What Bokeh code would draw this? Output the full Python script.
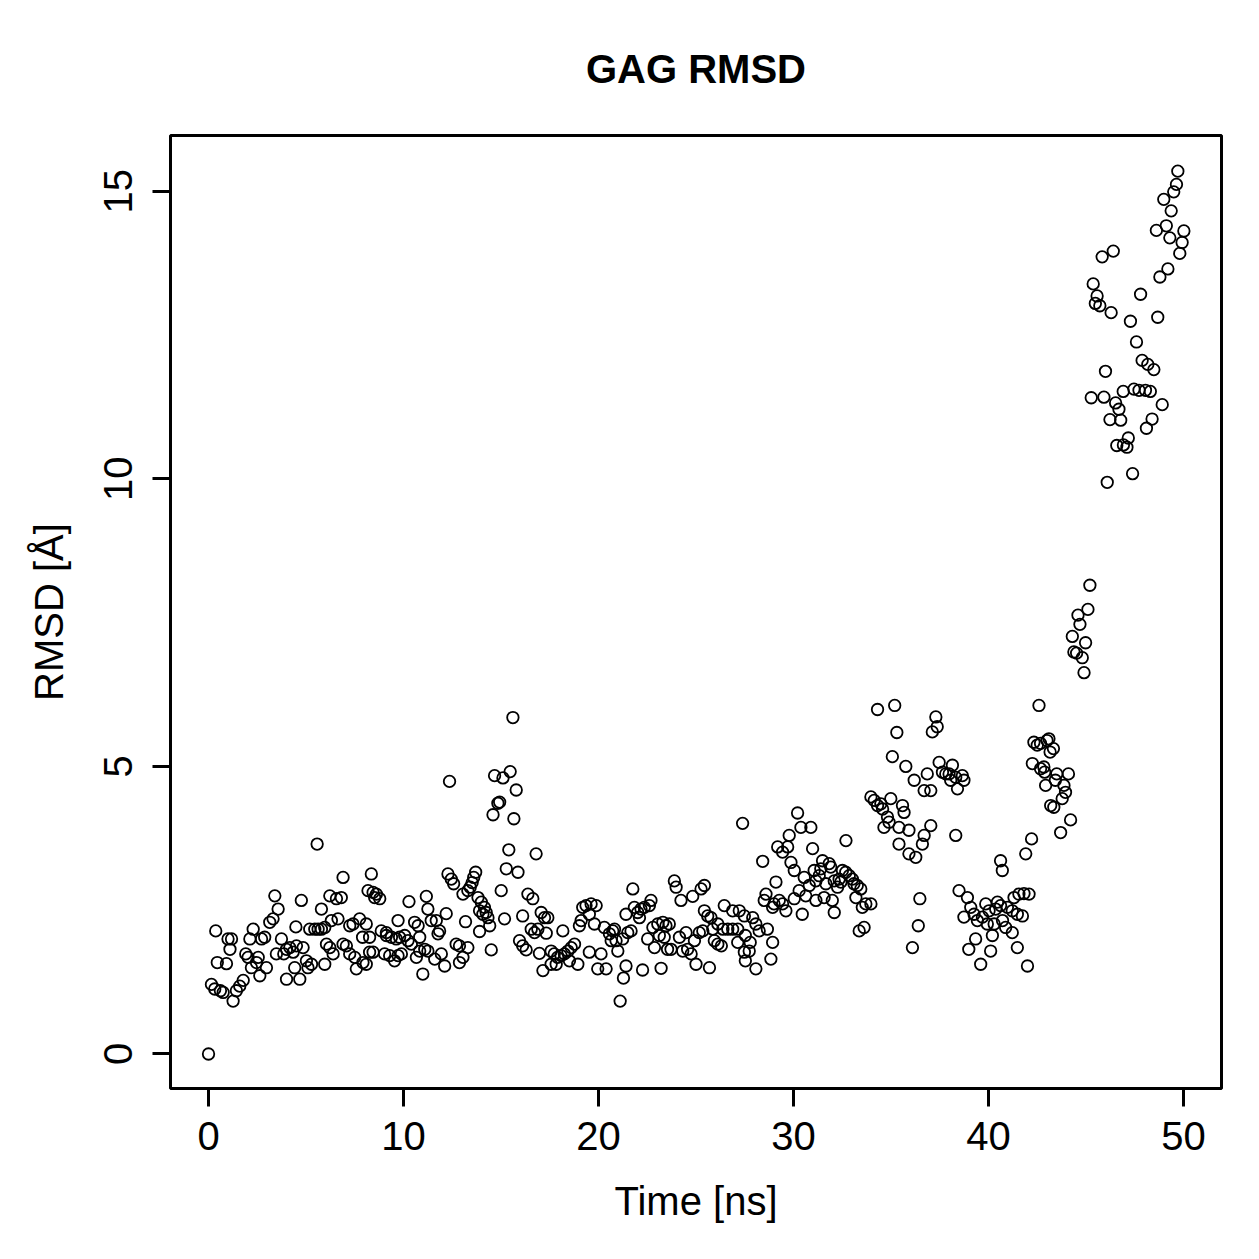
from bokeh.plotting import figure
from bokeh.models import FixedTicker, ColumnDataSource
from bokeh.embed import file_html
from bokeh.resources import INLINE

# Points (time in ns, RMSD in Å)
time_ns = [
    0.0, 0.37, 1.0, 1.18, 1.1, 0.45, 0.92, 0.15, 0.32, 0.61, 0.75, 1.26, 1.43, 1.6, 1.78,
    1.91, 2.03, 2.2, 2.46, 2.55, 2.97, 2.63, 2.29, 2.12, 2.72, 2.88, 3.14, 3.31, 3.57, 3.4,
    3.48, 3.74, 3.86, 4.0, 4.17, 4.34, 4.51, 4.42, 4.0, 4.68, 4.85, 4.48, 4.76,
    5.02, 5.28, 5.1, 5.96, 5.19, 5.45, 5.62, 5.79, 5.96, 5.57, 5.79,
    6.05, 6.22, 6.39, 6.9, 7.07, 7.24, 7.5, 7.58, 7.92, 8.26, 7.9,
    6.22, 6.56, 6.81, 6.3, 6.64, 6.9, 7.24, 7.41, 7.75, 8.09,
    8.35, 8.18, 8.44, 8.52,
    15.61, 12.36, 14.67, 15.1, 15.47, 15.78, 14.84, 14.93, 14.59, 15.66, 15.4, 16.8, 15.27, 15.87,
    12.28, 12.45, 12.57, 13.7, 13.6, 13.52, 13.42, 13.3, 13.05, 15.01, 8.61, 8.78, 10.28, 11.17,
    16.38, 16.63, 13.82, 13.99, 14.15, 14.24, 13.9, 14.07, 14.33, 14.42,
    11.25, 11.42, 11.68, 12.19, 13.18, 13.9, 11.85, 11.77, 15.18,
    16.11, 17.06, 17.23, 16.55, 16.89, 16.72, 15.95, 16.11, 16.29, 16.97, 17.15, 14.5,
    12.7, 12.87, 13.3, 13.05, 12.87, 12.11, 11.6, 11.94, 11.25, 10.99, 10.66, 10.83, 11.09,
    9.03, 9.29, 9.54, 9.72, 9.89, 8.09, 8.44,
    8.86, 9.12, 9.38, 9.63, 9.8, 10.06, 10.23, 10.4, 10.57, 10.75, 10.83, 9.72, 9.12, 8.26,
    17.4, 17.32, 17.57, 17.73, 17.9, 18.08, 18.25, 18.43, 18.6, 18.77, 17.57, 17.83, 18.51, 18.94, 18.17,
    19.02, 19.11, 19.19, 19.36, 19.53, 19.62, 19.88, 19.79, 19.53, 19.96, 20.13, 20.39, 20.3,
    20.56, 20.73, 20.9, 20.65, 20.99, 20.82, 21.24, 21.5, 21.67, 21.41, 21.28, 21.11, 21.76,
    21.41, 21.84, 22.01, 22.18, 22.35, 22.61, 22.69, 22.1, 22.26,
    22.52, 22.87, 22.79, 23.04, 23.3, 23.46, 23.63, 23.12, 23.37, 23.54, 23.72, 23.21,
    23.89, 23.98, 24.23, 24.83, 25.26, 25.43,
    24.15, 24.49, 24.32, 24.57, 24.75, 24.92, 25.17, 25.35, 25.0, 25.69,
    25.43, 25.6, 25.77, 25.86, 25.94,
    30.21, 27.39, 30.38, 30.89, 29.78, 29.7, 29.19, 29.44, 32.69, 30.98, 28.42,
    29.87, 30.04, 31.49, 31.83, 31.4, 31.91,
    30.55, 31.06, 31.32, 30.81, 31.15, 31.66, 32.09, 32.34, 32.51, 32.68, 32.86, 33.02, 33.1, 33.27, 33.45, 32.26, 32.43,
    29.1, 30.29, 30.04, 30.63, 31.15, 31.57, 31.99, 32.09, 30.45,
    28.59, 28.5, 29.0, 29.27, 29.44, 29.61, 28.93,
    33.2, 33.53, 33.71, 33.62, 33.37,
    26.45, 26.88, 27.22, 27.48, 27.91, 28.07, 28.24, 28.66, 28.93, 28.84, 28.07, 27.73, 27.48, 27.14,
    26.12, 26.38, 26.63, 26.88, 27.14, 26.12, 26.3, 27.53, 27.78, 27.53,
    34.31, 35.19, 37.3, 37.37, 37.12, 35.3, 42.59, 35.07, 35.76, 36.19, 36.86, 36.7, 37.04,
    37.47, 37.64, 37.81, 37.98, 38.15, 38.32, 38.41, 38.66, 38.74, 38.06,
    33.97, 34.14, 34.31, 34.57, 34.99, 35.59, 35.67, 34.82, 34.64, 35.41, 35.92, 35.41, 35.92, 36.27,
    36.61, 36.7, 37.04, 38.32, 34.48, 34.9, 33.97, 36.48, 36.4, 36.1,
    38.49, 38.92, 39.09, 38.74, 39.26, 39.43, 39.69, 39.86, 40.03, 40.37, 40.46, 40.62, 40.97, 41.22,
    41.48, 41.74, 41.56, 41.82, 42.08, 41.31, 40.88, 41.22, 40.2, 39.34, 38.99, 40.11, 39.6, 41.48,
    42.0, 40.72, 39.94, 40.29, 40.62, 40.71, 41.91, 42.21,
    42.33, 42.5, 43.0, 42.25, 42.67, 42.93, 43.19, 42.84,
    45.2, 45.1, 44.59, 44.69, 44.3, 44.98, 44.38, 44.52, 44.81, 44.9,
    43.1, 43.33, 43.16, 42.88, 43.5, 44.1, 43.43, 43.87, 43.95, 43.78, 43.35, 44.21, 43.7, 42.67,
    49.71, 49.64, 49.5, 48.99, 49.37, 48.61, 49.12, 49.3, 50.02, 49.93, 49.81,
    46.4, 45.83, 49.2, 48.79, 45.37, 45.57, 45.48, 45.71, 46.29,
    47.8, 48.68, 47.28, 47.59, 46.0, 47.88, 48.17, 48.48,
    45.27, 45.92, 46.52, 46.69, 46.91, 47.46, 47.72, 48.05, 48.3, 48.91,
    46.23, 46.78, 48.39, 48.1, 47.17, 46.58, 46.92, 47.1, 47.39, 46.09,
]

rmsd = [
    0.0, 2.14, 2.0, 2.0, 1.82, 1.59, 1.57, 1.21, 1.13, 1.1, 1.07, 0.92, 1.1, 1.18, 1.28,
    1.74, 1.68, 1.5, 1.59, 1.68, 1.5, 1.36, 2.17, 2.0, 2.0, 2.03, 2.29, 2.35, 2.52, 2.75,
    1.74, 2.0, 1.74, 1.82, 1.85, 1.77, 1.88, 1.5, 1.3, 1.3, 1.85, 2.21, 2.67,
    1.62, 1.56, 1.5, 1.56, 2.17, 2.17, 2.17, 2.17, 2.2, 3.65, 2.52,
    1.91, 1.85, 1.74, 1.91, 1.88, 1.74, 1.68, 1.48, 1.59, 1.77, 2.03,
    2.75, 2.7, 2.72, 2.32, 2.35, 3.07, 2.23, 2.26, 2.35, 2.26,
    3.13, 2.84, 2.81, 2.72,
    5.85, 4.74, 4.84, 4.8, 4.91, 4.59, 4.36, 4.38, 4.16, 4.09, 3.55, 3.48, 3.22, 3.16,
    3.13, 3.04, 2.96, 3.16, 3.07, 2.98, 2.9, 2.84, 2.78, 2.84, 2.78, 2.7, 2.65, 2.74,
    2.78, 2.7, 2.72, 2.64, 2.55, 2.46, 2.49, 2.43, 2.37, 2.23,
    2.52, 2.32, 2.32, 2.44, 2.3, 2.13, 2.14, 2.09, 2.35,
    2.4, 2.46, 2.37, 2.17, 2.17, 2.11, 1.97, 1.88, 1.81, 1.75, 1.45, 1.81,
    1.91, 1.88, 1.85, 1.68, 1.59, 1.53, 1.65, 1.74, 1.79, 1.39, 1.68, 1.79, 1.82,
    1.74, 1.71, 1.62, 1.71, 1.74, 1.56, 1.77,
    2.14, 2.06, 2.03, 2.0, 2.03, 2.06, 1.97, 1.91, 2.29, 2.23, 2.03, 2.32, 2.11, 2.03,
    2.37, 2.1, 1.79, 1.74, 1.68, 1.71, 1.74, 1.79, 1.85, 1.91, 1.56, 1.56, 1.62, 1.56, 2.14,
    2.23, 2.32, 2.55, 2.58, 2.43, 2.61, 2.58, 2.26, 1.77, 1.48, 1.74, 1.48, 2.2,
    2.09, 2.14, 1.97, 1.97, 1.79, 2.17, 2.0, 2.11, 2.14, 1.53, 1.32, 0.92, 2.87,
    2.43, 2.55, 2.46, 2.52, 2.55, 2.58, 2.67, 2.37, 1.46,
    2.0, 1.85, 2.2, 2.26, 2.29, 2.23, 2.26, 2.06, 2.03, 1.82, 1.82, 1.49,
    3.01, 2.9, 2.67, 2.74, 2.87, 2.93,
    2.03, 2.11, 1.79, 1.82, 1.74, 1.97, 2.11, 2.14, 1.56, 1.5,
    2.49, 2.4, 2.37, 2.17, 1.97,
    4.19, 4.01, 3.94, 3.94, 3.8, 3.6, 3.6, 3.51, 3.71, 3.57, 3.35,
    3.33, 3.19, 3.36, 3.31, 3.22, 3.25,
    3.07, 3.19, 3.1, 2.93, 3.01, 2.96, 3.01, 3.04, 3.19, 3.16, 3.1, 3.04, 2.96, 2.93, 2.87, 2.9, 2.99,
    2.99, 2.84, 2.7, 2.75, 2.67, 2.72, 2.67, 2.46, 2.43,
    2.78, 2.67, 2.61, 2.67, 2.61, 2.49, 2.55,
    2.72, 2.55, 2.61, 2.2, 2.14,
    2.58, 2.49, 2.49, 2.4, 2.37, 2.26, 2.14, 2.17, 1.94, 1.65, 1.48, 1.79, 1.77, 1.94,
    2.26, 2.17, 2.17, 2.17, 2.17, 1.91, 1.88, 2.06, 1.94, 1.62,
    5.99, 6.06, 5.86, 5.69, 5.6, 5.59, 6.06, 5.17, 5.0, 4.76, 4.87, 4.58, 4.58,
    5.07, 4.9, 4.87, 4.87, 5.02, 4.81, 4.61, 4.84, 4.76, 4.76,
    4.47, 4.41, 4.32, 4.26, 4.44, 4.32, 4.2, 4.12, 3.94, 3.94, 3.89, 3.65, 3.48, 3.42,
    3.65, 3.8, 3.97, 3.8, 4.35, 4.03, 2.61, 2.7, 2.23, 1.85,
    2.84, 2.72, 2.55, 2.38, 2.43, 2.32, 2.38, 2.61, 2.49, 2.52, 2.64, 2.58, 2.55, 2.49,
    2.43, 2.4, 2.78, 2.79, 2.78, 2.72, 2.2, 2.11, 2.06, 2.0, 1.82, 1.79, 1.56, 1.85,
    1.53, 2.32, 2.26, 2.26, 3.36, 3.19, 3.48, 3.74,
    5.42, 5.37, 5.45, 5.05, 4.96, 4.67, 4.32, 4.99,
    8.15, 7.73, 7.63, 7.47, 7.26, 7.15, 6.99, 6.97, 6.89, 6.63,
    5.48, 5.31, 5.25, 4.9, 4.87, 4.87, 4.76, 4.67, 4.55, 4.44, 4.29, 4.07, 3.85, 5.4,
    15.35, 15.12, 14.99, 14.86, 14.66, 14.32, 14.4, 14.19, 14.31, 14.11, 13.92,
    13.96, 13.86, 13.65, 13.51, 13.39, 13.18, 13.05, 13.01, 12.89,
    13.21, 12.81, 12.74, 12.38, 11.87, 12.06, 11.99, 11.9,
    11.41, 11.42, 11.32, 11.21, 11.52, 11.56, 11.54, 11.54, 11.52, 11.29,
    11.03, 11.02, 11.04, 10.88, 10.71, 10.58, 10.59, 10.55, 10.09, 9.94,
]

x_ticks = [0, 10, 20, 30, 40, 50]
y_ticks = [0, 5, 10, 15]

FONT = "Liberation Sans"

p = figure(width=1259, height=1259, output_backend="svg", toolbar_location=None,
           x_range=(-1.95, 51.95), y_range=(-0.6, 15.97),
           min_border_left=170, min_border_right=38, min_border_top=135, min_border_bottom=171,
           title="GAG RMSD")

p.background_fill_color = "white"
p.border_fill_color = "white"
p.outline_line_color = "black"
p.outline_line_width = 3
p.xgrid.visible = False
p.ygrid.visible = False

p.title.align = "center"
p.title.text_font = FONT
p.title.text_font_size = "40px"
p.title.text_font_style = "bold"
p.title.text_color = "black"
p.title.standoff = 89

for ax in (p.xaxis[0], p.yaxis[0]):
    ax.axis_line_color = None
    ax.major_tick_line_color = "black"
    ax.major_tick_line_width = 3
    ax.major_tick_out = 18
    ax.major_tick_in = 0
    ax.minor_tick_line_color = None
    ax.major_label_text_font = FONT
    ax.major_label_text_font_size = "40px"
    ax.major_label_text_color = "black"
    ax.axis_label_text_font = FONT
    ax.axis_label_text_font_size = "40px"
    ax.axis_label_text_font_style = "normal"
    ax.axis_label_text_color = "black"

p.xaxis[0].ticker = FixedTicker(ticks=x_ticks)
p.yaxis[0].ticker = FixedTicker(ticks=y_ticks)
p.xaxis[0].axis_label = "Time [ns]"
p.yaxis[0].axis_label = "RMSD [Å]"
p.xaxis[0].major_label_standoff = 15
p.xaxis[0].axis_label_standoff = 26
p.yaxis[0].major_label_orientation = "parallel"
p.yaxis[0].major_label_standoff = 20
p.yaxis[0].axis_label_standoff = 31

src = ColumnDataSource(data=dict(t=time_ns, v=rmsd))
p.scatter("t", "v", source=src, marker="circle", size=11.5,
          fill_color=None, line_color="black", line_width=1.8)

open("out.html", "w").write(file_html(p, INLINE))
